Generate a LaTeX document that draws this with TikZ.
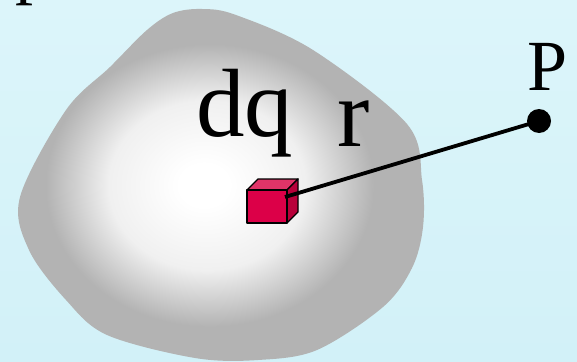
\documentclass[tikz,border=0pt]{standalone}
\usepackage{fontspec}
\setmainfont{Liberation Serif}
\definecolor{bgtop}{HTML}{DCF5FA}
\definecolor{bgbot}{HTML}{D2F1F8}
\definecolor{blobgray}{HTML}{B3B3B3}
\definecolor{cubefront}{HTML}{DC0048}
\definecolor{cubetop}{HTML}{E03468}
\definecolor{cubeside}{HTML}{B8003A}
\pgfdeclareradialshading{blobshade}{\pgfpoint{-2bp}{0bp}}{%
  color(0bp)=(white); color(3bp)=(white); color(12bp)=(white!80!blobgray);
  color(20bp)=(blobgray); color(50bp)=(blobgray)}
\tikzset{
  bigtxt/.style={inner sep=0pt, anchor=base west, font=\fontsize{97}{97}\selectfont},
  ptxt/.style={inner sep=0pt, anchor=base west, font=\fontsize{72}{72}\selectfont},
  cubeline/.style={draw=black, line width=1.4pt, line join=round},
  rline/.style={line width=3.8pt},
  dotnode/.style={circle, fill=black, inner sep=0pt, minimum size=24pt}
}
\begin{document}
\begin{tikzpicture}[x=1pt,y=-1pt]
\useasboundingbox (0,0) rectangle (577,361);
\clip (0,0) rectangle (577,361);
\shade[top color=bgtop, bottom color=bgbot] (0,0) rectangle (577,361);
% partial glyph at top-left
\node[ptxt] (top) at (15,-9.5) {p};
% blob
\shade[shading=blobshade] plot[smooth cycle, tension=0.55] coordinates {
  (20,197) (29,250) (66,300) (107,335) (195,358) (258,360) (317,350)
  (383,307) (412,268) (423,227) (422,180) (407,124) (313,50) (236,15)
  (202,9) (173,13) (147,30) (110,67) (66,110)};
% labels
\node[bigtxt] (dq) at (196,136) {dq};
\node[bigtxt] (r) at (337,146) {r};
\node[ptxt] (Plabel) at (527,90) {P};
% point P
\node[dotnode] (P) at (539,121) {};
% cube
\filldraw[cubeline, fill=cubetop] (247,190) -- (258,179) -- (298,179) -- (287,190) -- cycle;
\filldraw[cubeline, fill=cubeside] (287,190) -- (298,179) -- (298,212) -- (287,223) -- cycle;
\filldraw[cubeline, fill=cubefront] (247,190) rectangle (287,223);
\coordinate (dqpt) at (285,197);
% r line
\draw[rline] (dqpt) -- (P.center);
\end{tikzpicture}
\end{document}
